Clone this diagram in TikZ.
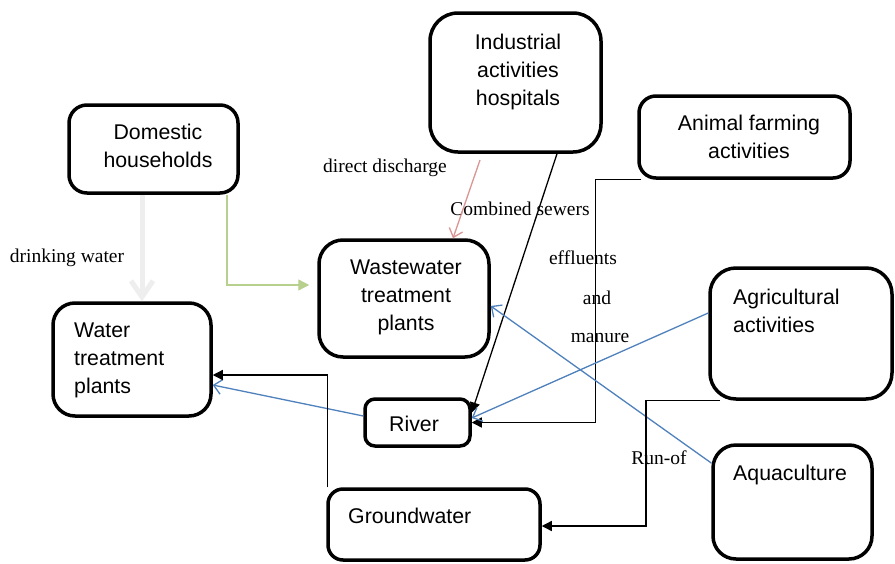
\documentclass[tikz,border=0pt]{standalone}
\usepackage{fontspec}
\setmainfont{Liberation Serif}
\setsansfont{Liberation Sans}
\usetikzlibrary{arrows.meta}
\definecolor{bluec}{HTML}{4F81BD}
\definecolor{greenc}{HTML}{B8D08E}
\definecolor{pinkc}{HTML}{D99694}
\definecolor{greyc}{HTML}{EEEEEE}
\begin{document}
\begin{tikzpicture}[x=1pt,y=-1pt,
  box/.style={draw, line width=3.5pt, inner sep=0pt},
  bt/.style={font=\sffamily\fontsize{21.3}{28}\selectfont, inner sep=0pt},
  lb/.style={font=\fontsize{19.5}{23}\selectfont, inner sep=0pt},
  conn/.style={line width=1.3pt},
  blk/.style={conn, -{Triangle[length=10pt,width=10pt]}},
  blu/.style={conn, bluec, -{Straight Barb[length=8pt,width=15pt]}},
  pnk/.style={conn, pinkc, -{Straight Barb[length=8pt,width=14pt]}},
  grn/.style={conn, greenc, -{Triangle[length=11pt,width=11pt]}},
  gry/.style={line width=5pt, greyc, -{Straight Barb[length=16pt,width=22pt]}},
]
\useasboundingbox (0,0) rectangle (895,563);
\fill[white] (0,0) rectangle (895,563);

% boxes
\node[box, rounded corners=18pt, minimum width=169pt, minimum height=88pt] (dom) at (153.5,149) {};
\node[box, rounded corners=22pt, minimum width=158pt, minimum height=113pt] (wtp) at (132,359.5) {};
\node[box, rounded corners=28pt, minimum width=171pt, minimum height=139pt] (ind) at (515.5,82.5) {};
\node[box, rounded corners=24pt, minimum width=170pt, minimum height=117pt] (wwtp) at (404,298.5) {};
\node[box, rounded corners=17pt, minimum width=211pt, minimum height=82pt] (anim) at (744.5,137) {};
\node[box, rounded corners=26pt, minimum width=182pt, minimum height=131pt] (agri) at (801,333.5) {};
\node[box, rounded corners=23pt, minimum width=159pt, minimum height=114pt] (aqua) at (792.5,502) {};
\node[box, rounded corners=10pt, minimum width=105pt, minimum height=47pt] (river) at (417.5,422.5) {};
\node[box, rounded corners=15pt, minimum width=212pt, minimum height=71pt] (gw) at (434,524.5) {};

% box texts
\node[bt, align=center] (tdom) at (158,146) {Domestic\\households};
\node[bt, align=left, anchor=west] (twtp) at (74,360) {Water\\treatment\\plants};
\node[bt, align=center] (tind) at (518,71.5) {Industrial\\activities\\hospitals};
\node[bt, align=center] (twwtp) at (406,297) {Wastewater\\treatment\\plants};
\node[bt, align=center] (tanim) at (749,137) {Animal farming\\activities};
\node[bt, align=left, anchor=west] (tagri) at (733,311) {Agricultural\\activities};
\node[bt, anchor=west] (taqua) at (733,475) {Aquaculture};
\node[bt] (triver) at (414,424) {River};
\node[bt, anchor=west] (tgw) at (348,516) {Groundwater};

% labels
\node[lb] (ldw) at (67,258) {drinking water};
\node[lb] (ldd) at (385,168) {direct discharge};
\node[lb] (lcs) at (520,209) {Combined sewers};
\node[lb] (leff) at (583,258) {effluents};
\node[lb] (land) at (597,298) {and};
\node[lb] (lman) at (600,338) {manure};
\node[lb] (lrun) at (659,458) {Run-of};

% connectors
\draw[gry] ([xshift=-11.5pt]dom.south) -- ([xshift=-11.5pt]dom.south |- wtp.north);
\draw[grn, shorten >=8pt] ([xshift=73.5pt]dom.south) |- ([yshift=13.5pt]wwtp.west);
\coordinate (ddst) at (480,160);
\draw[pnk] (ddst) -- ([xshift=49pt]wwtp.north);
\draw[blk] ([xshift=41.5pt]ind.south) -- ([yshift=10pt]river.east);
\draw[blk] ([xshift=4pt]anim.south west) -- ++(-46,0) |- (river.east);
\draw[blu] ([yshift=20.5pt]agri.west) -- ([yshift=4.5pt]river.east);
\draw[blu] ([yshift=39pt]aqua.west) -- ([yshift=-7.5pt]wwtp.east);
\draw[blu] ([yshift=6.5pt]river.west) -- ([yshift=-25.5pt]wtp.east);
\draw[blk] ([xshift=1pt]gw.north west) |- ([yshift=-15.5pt]wtp.east);
\draw[blk] ([xshift=-81pt]agri.south) -- ++(-74,0) |- ([yshift=-1.5pt]gw.east);
\end{tikzpicture}
\end{document}
